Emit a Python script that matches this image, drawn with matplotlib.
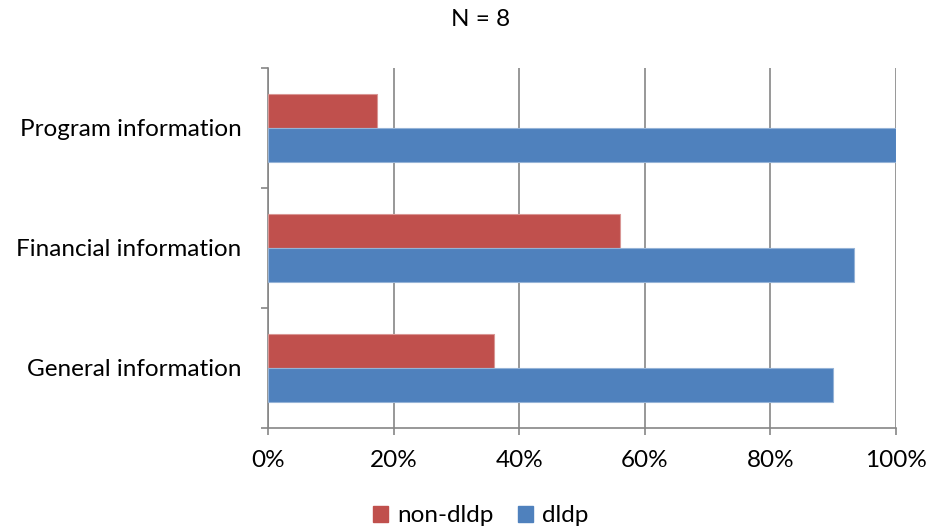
import matplotlib
matplotlib.use("Agg")
import matplotlib.pyplot as plt
from matplotlib.patches import Patch
import numpy as np

categories = ["General information", "Financial information", "Program information"]
non_dldp = [36.0, 56.0, 17.4]
dldp = [90.0, 93.3, 100.0]
x_ticks = [0, 20, 40, 60, 80, 100]
x_labels = ["0%", "20%", "40%", "60%", "80%", "100%"]

plt.rcParams['font.family'] = ['Lato', 'DejaVu Sans']

RED = "#C0504D"
BLUE = "#4F81BD"
GRID = "#868686"
FS = 17.5

fig = plt.figure(figsize=(9.35, 5.30), dpi=100)
ax = fig.add_axes([268/935, 1-428/530, (896-268)/935, (428-68)/530])

y = np.arange(len(categories))
h = 0.283
ax.barh(y + h/2, non_dldp, height=h, color=RED, edgecolor="#D99694", linewidth=0.8, zorder=3)
ax.barh(y - h/2, dldp, height=h, color=BLUE, edgecolor="#95B3D7", linewidth=0.8, zorder=3)

ax.set_xlim(0, 100)
ax.set_ylim(-0.5, len(categories) - 0.5)
ax.set_xticks(x_ticks)
ax.set_xticklabels(x_labels, fontsize=FS)
ax.set_yticks(y)
ax.set_yticklabels(categories, fontsize=FS)
ax.set_yticks(np.arange(-0.5, len(categories), 1.0), minor=True)
ax.tick_params(axis='y', which='major', length=0, pad=19)
ax.tick_params(axis='y', which='minor', length=5, width=1.2, color=GRID)
ax.tick_params(axis='x', which='major', length=5, width=1.2, color=GRID, pad=11)

ax.xaxis.grid(True, color=GRID, linewidth=1.2, zorder=0)
ax.set_axisbelow(True)
for s in ['top', 'right']:
    ax.spines[s].set_visible(False)
for s in ['left', 'bottom']:
    ax.spines[s].set_color(GRID)
    ax.spines[s].set_linewidth(1.2)

fig.text(481/935, 1-20/530, "N = 8", ha='center', va='center', fontsize=FS)

handles = [Patch(facecolor=RED, edgecolor=RED), Patch(facecolor=BLUE, edgecolor=BLUE)]
fig.legend(handles, ["non-dldp", "dldp"], loc='center', bbox_to_anchor=(481/935, 1-516/530),
           ncol=2, frameon=False, fontsize=FS, handlelength=0.6, handleheight=0.6,
           handletextpad=0.4, columnspacing=1.0)

fig.savefig("out.png", dpi=100)
